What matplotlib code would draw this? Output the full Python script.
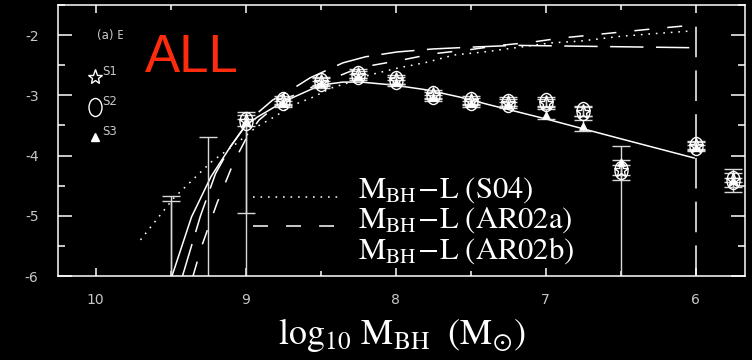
import matplotlib
matplotlib.use("Agg")
import matplotlib.pyplot as plt
import numpy as np
from matplotlib.path import Path
from matplotlib.transforms import Affine2D
from matplotlib.ticker import MultipleLocator
from matplotlib.patches import Rectangle

plt.rcParams['axes.unicode_minus'] = False
plt.rcParams['lines.scale_dashes'] = False
plt.rcParams['mathtext.fontset'] = 'stix'

# model curves: log10 M_BH vs log10 phi
fit_x = [9.49, 9.36, 9.23, 9.10, 9.0, 8.92, 8.75, 8.5, 8.35, 8.23, 8.01, 7.79, 7.57, 7.37, 7.0, 6.5, 6.01]
fit_y = [-6.0, -5.02, -4.35, -3.85, -3.5, -3.36, -3.11, -2.83, -2.78, -2.78, -2.83, -2.91, -3.03, -3.16, -3.39, -3.72, -4.04]

s04_x = [9.70, 9.48, 9.23, 9.05, 8.93, 8.81, 8.68, 8.55, 8.43, 8.30, 8.17, 7.99, 7.79, 7.61, 7.41,
         7.17, 6.97, 6.77, 6.50, 6.30, 6.02]
s04_y = [-5.40, -4.71, -4.11, -3.78, -3.53, -3.36, -3.16, -3.03, -2.88, -2.78, -2.66, -2.55, -2.45, -2.33, -2.28,
         -2.20, -2.13, -2.10, -2.02, -1.98, -1.93]

ar02a_x = [9.35, 9.29, 9.19, 9.08, 8.99, 8.91, 8.75, 8.5, 8.3, 8.15, 7.95, 7.75, 7.5, 7.3, 7.1, 6.9, 6.7, 6.5, 6.3, 6.0]
ar02a_y = [-6.0, -5.49, -4.79, -4.12, -3.69, -3.41, -3.08, -2.8, -2.6, -2.5, -2.41, -2.31, -2.24, -2.17, -2.12,
           -2.05, -2.0, -1.95, -1.9, -1.83]

ar02b_x = [9.42, 9.3, 9.2, 9.1, 8.97, 8.82, 8.71, 8.57, 8.35, 8.2, 7.99, 7.75, 7.5, 7.2, 6.9, 6.6, 6.3, 6.0]
ar02b_y = [-6.0, -5.0, -4.3, -3.85, -3.4, -3.08, -2.93, -2.71, -2.46, -2.36, -2.28, -2.23, -2.2, -2.17, -2.18,
           -2.19, -2.2, -2.21]
cut_x = 6.0
cut_top = -1.82

# binned estimates for the three samples
mass = [9.5, 9.25, 9.0, 8.75, 8.5, 8.25, 8.0, 7.75, 7.5, 7.25, 7.0, 6.75, 6.5, 6.0, 5.75]
s1 = [-6.4, -6.6, -3.42, -3.10, -2.78, -2.66, -2.75, -3.00, -3.10, -3.12, -3.12, -3.27, -4.24, -3.84, -4.41]
s1_lo = [0.1, 0.1, 1.53, 0.06, 0.06, 0.06, 0.06, 0.06, 0.06, 0.06, 0.06, 0.08, 0.08, 0.06, 0.19]
s1_hi = [1.73, 2.91, 0.14, 0.06, 0.06, 0.06, 0.06, 0.06, 0.06, 0.06, 0.06, 0.08, 0.08, 0.06, 0.19]
s2 = [-6.6, np.nan, -3.42, -3.10, -2.78, -2.66, -2.75, -3.00, -3.10, -3.12, -3.11, -3.26, -4.24, -3.84, -4.41]
s2_lo = [0.1, 0.0, 0.09, 0.09, 0.09, 0.09, 0.09, 0.09, 0.09, 0.09, 0.09, 0.09, 0.17, 0.09, 0.12]
s2_hi = [1.85, 0.0, 0.09, 0.09, 0.09, 0.09, 0.09, 0.09, 0.09, 0.09, 0.09, 0.09, 0.40, 0.09, 0.12]
s3 = [-7.0, np.nan, -3.42, -3.12, -2.80, -2.68, -2.78, -3.02, -3.12, -3.14, -3.33, -3.51, -4.10, -3.86, -4.41]
s3_lo = [0.1, 0.0, 3.0, 0.03, 0.03, 0.03, 0.03, 0.03, 0.03, 0.03, 0.07, 0.08, 2.5, 0.03, 0.03]
s3_hi = [0.1, 0.0, 0.03, 0.03, 0.03, 0.03, 0.03, 0.03, 0.03, 0.03, 0.1, 0.1, 0.03, 0.03, 0.03]

ellipse = Path.unit_circle().transformed(Affine2D().scale(0.72, 1.0))

fig = plt.figure(figsize=(7.52, 3.6), dpi=100, facecolor='black')
ax = fig.add_axes([58 / 752, 1 - 276 / 360, 687 / 752, 271 / 360])
ax.set_facecolor('black')

lw = 1.1
ax.plot(fit_x, fit_y, color='white', lw=lw)
ax.plot(s04_x, s04_y, color='white', lw=lw, linestyle=(0, (1.2, 4.2)))
ax.plot(ar02a_x, ar02a_y, color='white', lw=lw, linestyle=(0, (10.8, 13)))
ax.plot(ar02b_x, ar02b_y, color='white', lw=lw, linestyle=(0, (24, 9)))
ax.vlines(cut_x, -6, cut_top, color='white', lw=lw, linestyles=[(0, (22, 9.5))])

ebar = dict(fmt='none', ecolor='#d8d8d8', elinewidth=1.0, capsize=6.5, capthick=1.0)
ax.errorbar(mass, s1, yerr=[s1_lo, s1_hi], **ebar)
ax.errorbar(mass, s2, yerr=[s2_lo, s2_hi], **ebar)
ax.errorbar(mass, s3, yerr=[s3_lo, s3_hi], **ebar)

ax.plot(mass, s2, linestyle='none', marker=ellipse, ms=13, mfc='none', mec='white', mew=1.0)
ax.plot(mass, s1, linestyle='none', marker='*', ms=11, mfc='none', mec='white', mew=1.0)
ax.plot(mass, s3, linestyle='none', marker='^', ms=6, mfc='white', mec='white', mew=0.5)

ax.set_xlim(10.25, 5.67)
ax.set_ylim(-6, -1.5)

for side in ax.spines.values():
    side.set_color('white')
    side.set_linewidth(1.1)

ax.xaxis.set_major_locator(MultipleLocator(1))
ax.xaxis.set_minor_locator(MultipleLocator(0.5))
ax.yaxis.set_major_locator(MultipleLocator(1))
ax.yaxis.set_minor_locator(MultipleLocator(0.5))
ax.tick_params(axis='both', which='both', direction='in', colors='white', width=1.1,
               top=True, right=True, labelcolor='#c8c8c8', labelsize=10)
ax.tick_params(axis='x', which='major', length=6, pad=12)
ax.tick_params(axis='x', which='minor', length=3.6)
ax.tick_params(axis='y', which='major', length=10, pad=14)
ax.tick_params(axis='y', which='minor', length=5)
ax.set_yticks([-2, -3, -4, -5, -6])

ax.set_xlabel(r'$\mathrm{log_{10}\ M_{BH}\ \ (M_{\odot})}$', fontsize=26, color='white', labelpad=7)

# sample key
tr = ax.transAxes
key = dict(color='#c8c8c8', fontsize=8.5, transform=tr, va='center', ha='left')
ax.plot([0.054], [0.734], marker='*', ms=11, mfc='none', mec='white', mew=1.0, transform=tr, clip_on=False)
ax.plot([0.054], [0.624], marker=ellipse, ms=13, mfc='none', mec='white', mew=1.0, transform=tr, clip_on=False)
ax.plot([0.054], [0.513], marker='^', ms=6, mfc='white', mec='white', transform=tr, clip_on=False)
ax.text(0.064, 0.755, 'S1', **key)
ax.text(0.064, 0.645, 'S2', **key)
ax.text(0.064, 0.534, 'S3', **key)
ax.text(0.057, 0.889, '(a) E', **key)
ax.add_patch(Rectangle((0.094, 0.72), 0.18, 0.21, transform=tr, color='black', zorder=4))
ax.text(0.127, 0.805, 'ALL', transform=tr, color='#ff2b0f', fontsize=38,
        family='Liberation Sans', va='center', ha='left', zorder=5)

# curve key
ax.plot([0.2838, 0.4076], [0.2915, 0.2915], color='white', lw=lw, linestyle=(0, (1.2, 4.2)), transform=tr)
ax.plot([0.2838, 0.4018], [0.1845, 0.1845], color='white', lw=lw, linestyle=(0, (10.8, 13)), transform=tr)
lab = dict(color='white', fontsize=22, transform=tr, va='baseline', ha='left')
ax.text(0.4367, 0.288, r'$\mathrm{M_{BH}\!-\!L\ (S04)}$', **lab)
ax.text(0.4367, 0.178, r'$\mathrm{M_{BH}\!-\!L\ (AR02a)}$', **lab)
ax.text(0.4367, 0.065, r'$\mathrm{M_{BH}\!-\!L\ (AR02b)}$', **lab)

fig.savefig('out.png', dpi=100, facecolor='black')
